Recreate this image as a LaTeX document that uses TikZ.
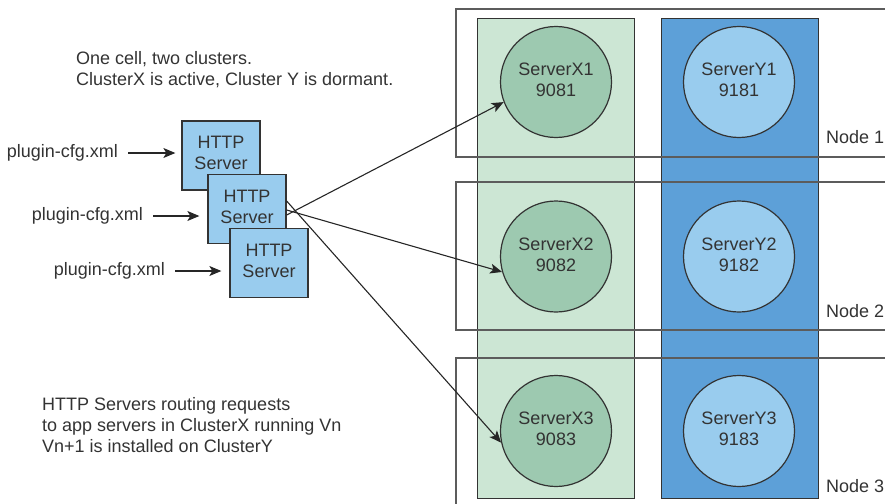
\documentclass[tikz,border=0pt]{standalone}
\usepackage{fontspec}
\setmainfont{Liberation Sans}
\usetikzlibrary{arrows.meta}
\definecolor{httpfill}{HTML}{99CCEE}
\definecolor{greencol}{HTML}{CCE6D4}
\definecolor{greencirc}{HTML}{9DC9B0}
\definecolor{bluecol}{HTML}{5DA0D8}
\definecolor{bluecirc}{HTML}{99CCEE}
\definecolor{edge}{HTML}{333333}
\definecolor{txt}{HTML}{333333}
\begin{document}
\begin{tikzpicture}[x=1pt,y=-1pt,
  font=\fontsize{18}{21}\selectfont,
  lbl/.style={text=txt, inner sep=0pt},
  http/.style={draw=edge, line width=1.3pt, fill=httpfill, minimum width=78, minimum height=69, inner sep=0pt, align=center, text=txt, text depth=5pt},
  xsrv/.style={circle, draw=edge, line width=1.2pt, fill=greencirc, minimum size=111, inner sep=0pt, align=center, text=txt, text depth=4pt},
  ysrv/.style={circle, draw=edge, line width=1.2pt, fill=bluecirc, minimum size=111, inner sep=0pt, align=center, text=txt, text depth=4pt},
  colbox/.style={draw=edge, line width=1pt},
  nodebox/.style={draw=edge!80, line width=1.4pt},
  conn/.style={draw=black!85, line width=1.1pt, -{Stealth[length=12pt,width=10pt,inset=3pt]}}
]
\useasboundingbox (0,0) rectangle (885,503);
\begin{scope}
\clip (0,0) rectangle (885,503);
% cluster columns
\draw[colbox, fill=greencol] (477,19) rectangle (634,498);
\draw[colbox, fill=bluecol] (661,19) rectangle (818,498);
% node boxes
\draw[nodebox] (456,9) rectangle (900,157);
\draw[nodebox] (456,182) rectangle (900,330);
\draw[nodebox] (456,358) rectangle (900,530);
\end{scope}
\node[lbl, anchor=west] (n1) at (826,137) {Node 1};
\node[lbl, anchor=west] (n2) at (826,311) {Node 2};
\node[lbl, anchor=west] (n3) at (826,486) {Node 3};
% servers
\node[xsrv] (X1) at (556,82) {ServerX1\\9081};
\node[xsrv] (X2) at (556,256.5) {ServerX2\\9082};
\node[xsrv] (X3) at (556,431) {ServerX3\\9083};
\node[ysrv] (Y1) at (739,82) {ServerY1\\9181};
\node[ysrv] (Y2) at (739,256.5) {ServerY2\\9182};
\node[ysrv] (Y3) at (739,431) {ServerY3\\9183};
% texts
\node[lbl, anchor=north west, align=left] (t1) at (76,51) {One cell, two clusters.\\ClusterX is active, Cluster Y is dormant.};
\node[lbl, anchor=north west, align=left] (t2) at (42,397) {HTTP Servers routing requests\\to app servers in ClusterX running Vn\\Vn+1 is installed on ClusterY};
% http servers
\node[http] (b1) at (221,155.5) {HTTP\\Server};
\node[http] (b2) at (247,209) {HTTP\\Server};
\draw[conn] ([yshift=-6pt]b2.east) -- (X1.201);
\draw[conn] ([yshift=-1pt]b2.east) -- (X2.196);
\draw[conn] ([yshift=8pt]b2.east) -- (X3.192);
\node[http] (b3) at (269,263) {HTTP\\Server};
% plugin config labels
\node[lbl, anchor=east] (p1) at (118,153) {plugin-cfg.xml};
\node[lbl, anchor=east] (p2) at (143,216) {plugin-cfg.xml};
\node[lbl, anchor=east] (p3) at (165,271) {plugin-cfg.xml};
\draw[conn, shorten <=10pt, shorten >=6pt] (p1.east) -- (p1.east -| b1.west);
\draw[conn, shorten <=10pt, shorten >=8pt] (p2.east) -- (p2.east -| b2.west);
\draw[conn, shorten <=10pt, shorten >=8pt] (p3.east) -- (p3.east -| b3.west);
\end{tikzpicture}
\end{document}
